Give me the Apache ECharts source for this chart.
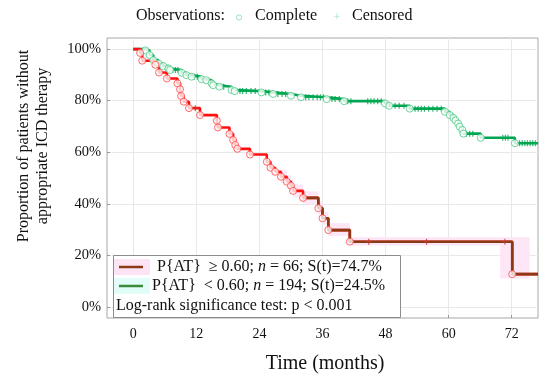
<!DOCTYPE html>
<html><head><meta charset="utf-8">
<script src="https://cdn.jsdelivr.net/npm/echarts@6/dist/echarts.min.js"></script>
<style>html,body{margin:0;padding:0;background:#fff}#c{width:550px;height:381px}</style>
</head><body><div id="c"></div>
<script>
const xTicks = [0, 12, 24, 36, 48, 60, 72];
const yTicks = [0, 20, 40, 60, 80, 100];

// Group P{AT} >= 0.60 (red) : event times (months) and survival (%)
const redT = [0, 1.3, 1.7, 4.2, 4.9, 6.4, 8.4, 8.9, 9.1, 9.6, 10.6, 12.7, 15.9, 16.1, 18.3, 19.0, 19.4, 19.8, 22.2, 25.4, 26.1, 27.0, 28.1, 29.2, 30.0, 30.4, 32.3, 35.2, 36.0, 37.1, 41.2, 72.1];
const redS = [100, 98.5, 95.5, 93.9, 90.9, 88.6, 86.7, 84.4, 81.8, 79.6, 77.1, 74.4, 72.2, 69.6, 67.1, 64.7, 62.8, 61.3, 59.1, 56.3, 54.0, 52.4, 50.5, 48.6, 47.0, 45.0, 42.3, 38.3, 34.4, 29.8, 25.3, 12.7];
const redEnd = 77;
const redCensT = [11.8, 44.8, 55.8, 70.7];
const redCensS = [77.1, 25.3, 25.3, 25.3];

// faint pink shading around the red curve (segments)
const bandStart = [28.1, 29.2, 30.0, 30.4, 32.3, 35.2, 36.0, 37.1, 41.2, 69.8];
const bandEnd   = [29.2, 30.0, 30.4, 32.3, 35.2, 36.0, 37.1, 41.2, 69.8, 75.4];
const bandLo    = [48.0, 46.0, 44.5, 42.5, 40.0, 35.8, 32.0, 27.5, 23.8, 11.0];
const bandHi    = [53.0, 51.0, 49.5, 47.5, 44.8, 41.0, 37.0, 32.5, 27.0, 27.0];

// Group P{AT} < 0.60 (green)
const greenT = [0, 2.3, 3.1, 3.8, 4.8, 5.7, 6.7, 7.0, 9.2, 10.1, 11.1, 13.0, 13.9, 14.9, 15.2, 16.4, 18.7, 19.3, 24.4, 26.6, 30.0, 31.9, 36.8, 40.1, 47.9, 48.7, 52.6, 59.3, 60.2, 60.9, 61.3, 61.8, 62.1, 62.6, 62.8, 66.1, 72.6];
const greenS = [100, 99.5, 97.7, 95.7, 94.4, 93.4, 92.5, 91.9, 90.8, 89.9, 89.3, 88.3, 87.9, 86.7, 86.0, 85.4, 84.1, 83.7, 83.2, 82.6, 81.9, 81.3, 80.6, 79.8, 78.9, 78.0, 76.9, 75.7, 74.4, 73.3, 72.3, 71.1, 69.9, 68.6, 67.2, 65.6, 63.5];
const greenEnd = 77;
const greenCensT = [7.5, 8.0, 8.5, 11.6, 12.2, 17.2, 20.3, 20.8, 21.5, 22.4, 23.2, 25.2, 25.8, 27.5, 28.3, 29.0, 32.8, 33.4, 34.2, 35.0, 35.6, 36.2, 37.8, 38.4, 39.2, 40.8, 41.4, 44.6, 45.2, 45.8, 46.5, 47.2, 49.8, 50.6, 51.5, 53.6, 54.2, 54.8, 55.4, 56.2, 57.0, 57.8, 58.6, 63.4, 64.0, 64.6, 70.3, 70.8, 71.3, 73.5, 74.0, 74.5, 75.0, 75.5, 76.0, 76.5];
const greenCensS = [91.9, 91.9, 91.9, 89.3, 89.3, 85.4, 83.7, 83.7, 83.7, 83.7, 83.7, 83.2, 83.2, 82.6, 82.6, 82.6, 81.3, 81.3, 81.3, 81.3, 81.3, 81.3, 80.6, 80.6, 80.6, 79.8, 79.8, 79.8, 79.8, 79.8, 79.8, 79.8, 78.0, 78.0, 78.0, 76.9, 76.9, 76.9, 76.9, 76.9, 76.9, 76.9, 76.9, 67.2, 67.2, 67.2, 65.6, 65.6, 65.6, 63.5, 63.5, 63.5, 63.5, 63.5, 63.5, 63.5];

const brownFrom = 32.3; // line turns dark brown from here on

const FONT = '"Liberation Serif","Times New Roman",serif';
const PLUS = 'path://M4,0H6V4H10V6H6V10H4V6H0V4H4Z';

function pairs(t, s) { return t.map((v, i) => [v, s[i]]); }
const redLine = pairs(redT, redS).concat([[redEnd, redS[redS.length - 1]]]);
const brownLine = redLine.filter(p => p[0] >= brownFrom);
const greenLine = pairs(greenT, greenS).concat([[greenEnd, greenS[greenS.length - 1]]]);
const redEvents = pairs(redT, redS).slice(1);
const greenEvents = pairs(greenT, greenS).slice(1);
const bandData = bandStart.map((s, i) => [s, bandEnd[i], bandLo[i], bandHi[i]]);

const chart = echarts.init(document.getElementById('c'), null, {renderer: 'canvas'});
chart.setOption({
  animation: false,
  backgroundColor: '#fff',
  grid: {left: 107, right: 12, top: 38, bottom: 63, show: true, borderColor: '#a8a8a8', borderWidth: 1},
  xAxis: {
    type: 'value', min: -5, max: 77,
    axisLine: {show: false, onZero: false},
    axisTick: {show: true, inside: true, length: 3, customValues: xTicks, lineStyle: {color: '#999'}},
    axisLabel: {customValues: xTicks, fontFamily: FONT, fontSize: 14, color: '#111', margin: 9},
    splitLine: {show: true, lineStyle: {color: '#e8e8e8', width: 1}}
  },
  yAxis: {
    type: 'value', min: -4.3, max: 104.3,
    axisLine: {show: false, onZero: false},
    axisTick: {show: true, inside: true, length: 3, customValues: yTicks, lineStyle: {color: '#999'}},
    axisLabel: {customValues: yTicks, fontFamily: FONT, fontSize: 14.5, color: '#111', margin: 6, formatter: v => v + '%'},
    splitLine: {show: true, lineStyle: {color: '#e8e8e8', width: 1}}
  },
  series: [
    {type: 'custom', data: bandData, z: 1, encode: {x: [0, 1], y: [2, 3]},
      renderItem: function (params, api) {
        const p0 = api.coord([api.value(0), api.value(3)]);
        const p1 = api.coord([api.value(1), api.value(2)]);
        return {type: 'rect', shape: {x: p0[0], y: p0[1], width: p1[0] - p0[0], height: p1[1] - p0[1]}, style: {fill: '#fde6f6'}};
      }},
    {type: 'line', step: 'end', data: greenLine, showSymbol: false, symbol: 'none', lineStyle: {width: 2.6, color: '#00a651'}, itemStyle: {color: '#00a651'}, z: 2},
    {type: 'line', step: 'end', data: redLine, showSymbol: false, symbol: 'none', lineStyle: {width: 2.6, color: '#ff1010'}, itemStyle: {color: '#ff1010'}, z: 3},
    {type: 'line', step: 'end', data: brownLine, showSymbol: false, symbol: 'none', lineStyle: {width: 2.6, color: '#8a3a14'}, itemStyle: {color: '#8a3a14'}, z: 3},
    {type: 'scatter', data: greenCensS.map((s, i) => [greenCensT[i], s]), symbol: PLUS, symbolSize: 6, itemStyle: {color: '#00a651'}, z: 4},
    {type: 'scatter', data: redCensS.map((s, i) => [redCensT[i], s]), symbol: PLUS, symbolSize: 6, itemStyle: {color: '#c0392b'}, z: 4},
    {type: 'scatter', data: greenEvents, symbol: 'circle', symbolSize: 7, itemStyle: {color: '#ffffff', borderColor: '#4cc987', borderWidth: 1}, z: 5},
    {type: 'scatter', data: redEvents, symbol: 'circle', symbolSize: 7, itemStyle: {color: '#fff4f6', borderColor: '#ff4a4a', borderWidth: 1}, z: 5}
  ],
  graphic: [
    {type: 'text', left: 136, top: 8, style: {text: 'Observations:', font: '16px ' + FONT, fill: '#111'}},
    {type: 'circle', shape: {cx: 239, cy: 17.5, r: 2.6}, style: {fill: 'none', stroke: '#9adfc4', lineWidth: 1}},
    {type: 'text', left: 255, top: 8, style: {text: 'Complete', font: '16px ' + FONT, fill: '#111'}},
    {type: 'text', x: 337, y: 17.5, style: {text: '+', font: '12px ' + FONT, fill: '#9adfc4', textAlign: 'center', textVerticalAlign: 'middle'}},
    {type: 'text', left: 352, top: 8, style: {text: 'Censored', font: '16px ' + FONT, fill: '#111'}},
    {type: 'text', x: 325, y: 364, style: {text: 'Time (months)', font: '20px ' + FONT, fill: '#111', textAlign: 'center', textVerticalAlign: 'middle'}},
    {type: 'text', x: 24, y: 146, rotation: Math.PI / 2, style: {text: 'Proportion of patients without', font: '16px ' + FONT, fill: '#111', textAlign: 'center', textVerticalAlign: 'middle'}},
    {type: 'text', x: 43, y: 146, rotation: Math.PI / 2, style: {text: 'appropriate ICD therapy', font: '16px ' + FONT, fill: '#111', textAlign: 'center', textVerticalAlign: 'middle'}},
    {type: 'rect', shape: {x: 113.5, y: 255.5, width: 287, height: 62}, style: {fill: '#fff', stroke: '#8c8c8c', lineWidth: 1}, z: 10},
    {type: 'rect', shape: {x: 114, y: 259, width: 36, height: 16}, style: {fill: '#fde4f4'}, z: 11},
    {type: 'rect', shape: {x: 114, y: 278, width: 36, height: 16}, style: {fill: '#e2fdf7'}, z: 11},
    {type: 'line', shape: {x1: 119, y1: 267, x2: 143, y2: 267}, style: {stroke: '#8a3a14', lineWidth: 2.5}, z: 12},
    {type: 'line', shape: {x1: 119, y1: 286, x2: 143, y2: 286}, style: {stroke: '#3a8a3a', lineWidth: 2.5}, z: 12},
    {type: 'text', x: 157, y: 267, z: 12, style: {text: 'P{AT}  \u2265 0.60; {i|n} = 66; S(t)=74.7%', font: '16px ' + FONT, fill: '#111', textVerticalAlign: 'middle', rich: {i: {fontStyle: 'italic', fontFamily: FONT, fontSize: 16}}}},
    {type: 'text', x: 152, y: 286, z: 12, style: {text: 'P{AT}  < 0.60; {i|n} = 194; S(t)=24.5%', font: '16px ' + FONT, fill: '#111', textVerticalAlign: 'middle', rich: {i: {fontStyle: 'italic', fontFamily: FONT, fontSize: 16}}}},
    {type: 'text', x: 116, y: 306, z: 12, style: {text: 'Log-rank significance test: p < 0.001', font: '16px ' + FONT, fill: '#111', textVerticalAlign: 'middle'}}
  ]
});
</script></body></html>
